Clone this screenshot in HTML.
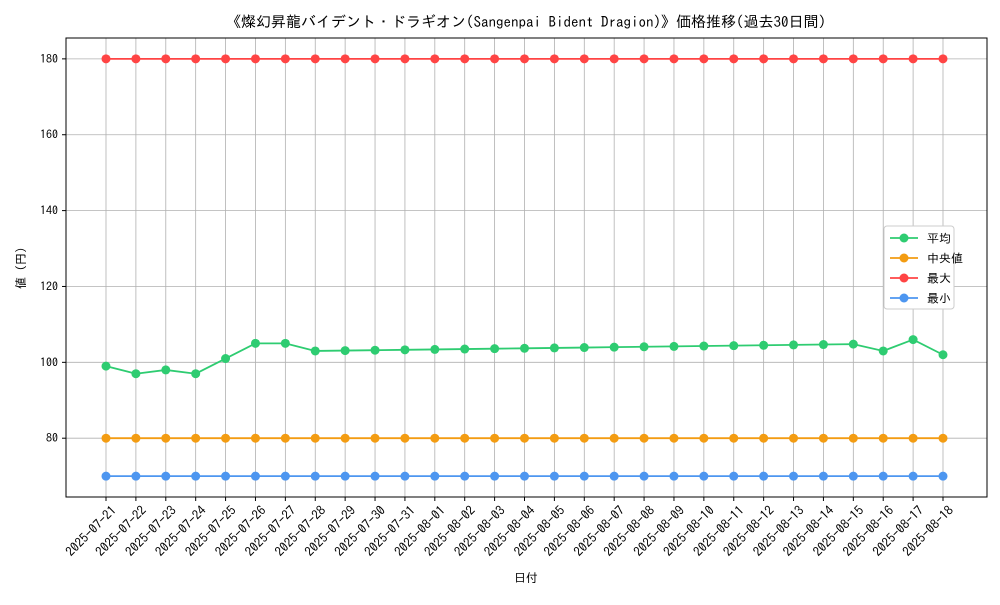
<!DOCTYPE html>
<html><head><meta charset="utf-8"><style>
body{margin:0;background:#fff;}
svg text{font-family:"IPAGothic","Noto Sans CJK JP",sans-serif;fill:#000;}
</style></head><body>
<svg id="chart" width="1000" height="600" xmlns="http://www.w3.org/2000/svg">
<rect width="1000" height="600" fill="#fff"/>
<text x="526" y="27" font-size="15" text-anchor="middle">《燦幻昇龍バイデント・ドラギオン(Sangenpai Bident Dragion)》価格推移(過去30日間)</text>
<g id="grid"></g><g id="axes"></g><g id="series"></g>
<text x="526" y="582" font-size="12" text-anchor="middle">日付</text>
<text transform="translate(25,268) rotate(-90)" font-size="12" text-anchor="middle">値 (円)</text>
<g id="legend"></g>
</svg>
<script>
const dates=["2025-07-21","2025-07-22","2025-07-23","2025-07-24","2025-07-25","2025-07-26","2025-07-27","2025-07-28","2025-07-29","2025-07-30","2025-07-31","2025-08-01","2025-08-02","2025-08-03","2025-08-04","2025-08-05","2025-08-06","2025-08-07","2025-08-08","2025-08-09","2025-08-10","2025-08-11","2025-08-12","2025-08-13","2025-08-14","2025-08-15","2025-08-16","2025-08-17","2025-08-18"];
const avgValues=[99,97,98,97,101,105,105,103,103.1,103.2,103.3,103.4,103.5,103.6,103.7,103.8,103.9,104,104.1,104.2,104.3,104.4,104.5,104.6,104.7,104.8,103,106,102];
const medianValues=[80,80,80,80,80,80,80,80,80,80,80,80,80,80,80,80,80,80,80,80,80,80,80,80,80,80,80,80,80];
const maxValues=[180,180,180,180,180,180,180,180,180,180,180,180,180,180,180,180,180,180,180,180,180,180,180,180,180,180,180,180,180];
const minValues=[70,70,70,70,70,70,70,70,70,70,70,70,70,70,70,70,70,70,70,70,70,70,70,70,70,70,70,70,70];
const yTicks=[80,100,120,140,160,180];
const seriesNames=["平均","中央値","最大","最小"];

const NS="http://www.w3.org/2000/svg";
const L=66,R=987,T=38,B=497,Y0=64.5,Y1=185.5;
const n=dates.length;
const x=i=>106+i*(943-106)/(n-1);
const y=v=>B-(v-Y0)/(Y1-Y0)*(B-T);
function mk(tag,attrs,parent){const e=document.createElementNS(NS,tag);for(const k in attrs)e.setAttribute(k,attrs[k]);parent.appendChild(e);return e;}
const grid=document.getElementById('grid'),axes=document.getElementById('axes'),ser=document.getElementById('series'),leg=document.getElementById('legend');
dates.forEach((d,i)=>{
 const g=mk('line',{x1:x(i),x2:x(i),y1:T,y2:B,stroke:'#b0b0b0','stroke-width':0.8},grid);
 
 
 const tk=mk('line',{x1:x(i),x2:x(i),y1:B,y2:B+4,stroke:'#000'},axes);
 
 
 const t=mk('text',{transform:`translate(${x(i)+5},${B+8}) rotate(-45)`,'font-size':13,'text-anchor':'end','dominant-baseline':'hanging'},axes);
 t.textContent=d;
 
 
});
yTicks.forEach(v=>{
 const g=mk('line',{x1:L,x2:R,y1:y(v),y2:y(v),stroke:'#b0b0b0','stroke-width':0.8},grid);
 
 
 mk('line',{x1:L-4,x2:L,y1:y(v),y2:y(v),stroke:'#000'},axes);
 const t=mk('text',{x:L-8,y:y(v)+4,'font-size':12,'text-anchor':'end'},axes);
 t.textContent=v;
 
 
});
const fr=mk('rect',{x:L,y:T,width:R-L,height:B-T,fill:'none',stroke:'#000','stroke-width':1},axes);


const series=[[avgValues,'#2ecc71','avg'],[medianValues,'#f39c12','median'],[maxValues,'#ff4444','max'],[minValues,'#4d96f0','min']];
series.forEach(([vals,c,name])=>{
 const g=mk('g',{},ser);
 
 
 const p=mk('polyline',{points:vals.map((v,i)=>x(i)+','+y(v)).join(' '),fill:'none',stroke:c,'stroke-width':1.8},g);
 
 
 vals.forEach((v,i)=>{const m=mk('circle',{cx:x(i),cy:y(v),r:4.5,fill:c},g);
  
  });
});
const lb=mk('rect',{x:884,y:226,width:70,height:83,fill:'#fff',stroke:'#ccc',rx:3},leg);


series.forEach(([v,c,name],i)=>{
 const yy=238+i*20;
 const g=mk('g',{},leg);
 
 
 mk('line',{x1:890,x2:918,y1:yy,y2:yy,stroke:c,'stroke-width':1.8},g);
 mk('circle',{cx:904,cy:yy,r:4.5,fill:c},g);
 const t=mk('text',{x:927,y:yy+4.5,'font-size':12},g);
 t.textContent=seriesNames[i];
});
</script>
</body></html>
